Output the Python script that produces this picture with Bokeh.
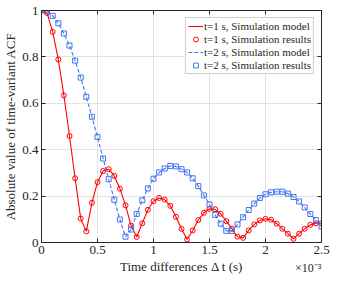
from bokeh.plotting import figure
from bokeh.models import (Legend, LegendItem, LinearAxis, FixedTicker, Range1d)
from bokeh.embed import file_html
from bokeh.resources import INLINE

# Time differences (x 1e-3 s)
x_t1 = [0.00, 0.05, 0.10, 0.15, 0.20, 0.25, 0.30, 0.35, 0.40, 0.45, 0.50,
        0.55, 0.60, 0.65, 0.70, 0.75, 0.80, 0.85, 0.90, 0.95, 1.00, 1.05,
        1.10, 1.15, 1.20, 1.25, 1.30, 1.35, 1.40, 1.45, 1.50, 1.55, 1.60,
        1.65, 1.70, 1.75, 1.80, 1.85, 1.90, 1.95, 2.00, 2.05, 2.10, 2.15,
        2.20, 2.25, 2.30, 2.35, 2.40, 2.45, 2.50]
acf_t1 = [1.000, 0.989, 0.908, 0.789, 0.634, 0.459, 0.277, 0.103, 0.048,
          0.171, 0.260, 0.308, 0.316, 0.287, 0.232, 0.160, 0.073, 0.024,
          0.083, 0.141, 0.178, 0.192, 0.185, 0.158, 0.111, 0.059, 0.013,
          0.052, 0.097, 0.128, 0.145, 0.143, 0.124, 0.092, 0.059, 0.025,
          0.020, 0.052, 0.078, 0.095, 0.102, 0.098, 0.081, 0.059, 0.038,
          0.016, 0.038, 0.059, 0.076, 0.083, 0.083]
x_t2 = list(x_t1)
acf_t2 = [1.000, 0.998, 0.977, 0.945, 0.901, 0.849, 0.784, 0.711, 0.628,
          0.542, 0.455, 0.362, 0.273, 0.184, 0.099, 0.025, 0.056, 0.123,
          0.182, 0.233, 0.275, 0.302, 0.319, 0.330, 0.328, 0.316, 0.302,
          0.277, 0.243, 0.203, 0.164, 0.119, 0.081, 0.050, 0.050, 0.078,
          0.109, 0.140, 0.168, 0.192, 0.208, 0.216, 0.219, 0.219, 0.211,
          0.196, 0.177, 0.151, 0.123, 0.097, 0.069]

x_ticks = [0, 0.5, 1, 1.5, 2, 2.5]
x_tick_labels = {0: "0", 0.5: "0.5", 1: "1", 1.5: "1.5", 2: "2", 2.5: "2.5"}
y_ticks = [0, 0.2, 0.4, 0.6, 0.8, 1]
y_tick_labels = {0: "0", 0.2: "0.2", 0.4: "0.4", 0.6: "0.6", 0.8: "0.8", 1: "1"}
exponent_tick = [2.38]
exponent_label = {2.38: "×10⁻³"}

RED = "#ff0000"
BLUE = "#4475f2"
FONT = "Liberation Serif"
AX = "#262626"

p = figure(width=333, height=276, output_backend="svg", toolbar_location=None,
           x_range=Range1d(0, 2.5), y_range=Range1d(0, 1),
           min_border_left=35, min_border_right=12, min_border_top=10,
           min_border_bottom=30, background_fill_color="white",
           border_fill_color="white", outline_line_color=AX)

r1 = p.line(x_t1, acf_t1, line_color=RED, line_width=1.1)
r2 = p.scatter(x_t1, acf_t1, marker="circle", size=5, fill_color=None,
               line_color=RED, line_width=1)
r3 = p.line(x_t2, acf_t2, line_color=BLUE, line_width=1.1, line_dash="4 2")
r4 = p.scatter(x_t2, acf_t2, marker="square", size=5, fill_color=None,
               line_color=BLUE, line_width=1)

for ax in (p.xaxis[0], p.yaxis[0]):
    ax.major_label_text_font = FONT
    ax.major_label_text_font_size = "13px"
    ax.major_label_text_color = AX
    ax.axis_label_text_font = FONT
    ax.axis_label_text_font_size = "13px"
    ax.axis_label_text_font_style = "normal"
    ax.axis_label_text_color = AX
    ax.axis_line_color = AX
    ax.major_tick_in = 4
    ax.major_tick_out = 0
    ax.minor_tick_line_color = None
    ax.major_tick_line_color = AX

p.xaxis[0].ticker = FixedTicker(ticks=x_ticks)
p.xaxis[0].major_label_overrides = x_tick_labels
p.xaxis[0].major_label_standoff = 3
p.yaxis[0].ticker = FixedTicker(ticks=y_ticks)
p.yaxis[0].major_label_overrides = y_tick_labels
p.yaxis[0].axis_label = "Absolute value of time-variant ACF"
p.yaxis[0].axis_label_standoff = 1
p.yaxis[0].major_label_standoff = 3

# second bottom axis: carries the x-axis title and the ×10⁻³ multiplier on one row
xb = LinearAxis(ticker=FixedTicker(ticks=exponent_tick),
                major_label_overrides=exponent_label,
                axis_line_color=None, major_tick_line_color=None,
                minor_tick_line_color=None, major_tick_in=0, major_tick_out=0,
                major_label_standoff=4,
                major_label_text_font=FONT, major_label_text_font_size="12px",
                major_label_text_color=AX,
                axis_label="Time differences Δ t (s)", axis_label_standoff=-19,
                axis_label_text_font=FONT, axis_label_text_font_size="13px",
                axis_label_text_font_style="normal", axis_label_text_color=AX)
p.add_layout(xb, "below")

for loc, tk in (("right", y_ticks), ("above", x_ticks)):
    a = LinearAxis(ticker=FixedTicker(ticks=tk), major_label_text_font_size="0px",
                   major_tick_in=4, major_tick_out=0, minor_tick_line_color=None,
                   axis_line_color=AX, major_tick_line_color=AX,
                   major_label_standoff=0)
    a.major_label_text_color = None
    p.add_layout(a, loc)

p.xgrid.ticker = FixedTicker(ticks=x_ticks)
p.ygrid.ticker = FixedTicker(ticks=y_ticks)
p.grid.grid_line_color = "#e3e3e3"
p.grid.grid_line_width = 1

legend = Legend(items=[
    LegendItem(label="t=1 s, Simulation model", renderers=[r1]),
    LegendItem(label="t=1 s, Simulation results", renderers=[r2]),
    LegendItem(label="t=2 s, Simulation model", renderers=[r3]),
    LegendItem(label="t=2 s, Simulation results", renderers=[r4]),
], location="top_right")
legend.label_text_font = FONT
legend.label_text_font_size = "11px"
legend.label_text_color = AX
legend.label_height = 12
legend.glyph_height = 12
legend.glyph_width = 15
legend.spacing = 1
legend.padding = 2
legend.margin = 7
legend.label_standoff = 1
legend.border_line_color = "#a0a0a0"
legend.border_line_width = 1
legend.background_fill_alpha = 1
p.add_layout(legend)

open("out.html", "w").write(file_html(p, INLINE))
